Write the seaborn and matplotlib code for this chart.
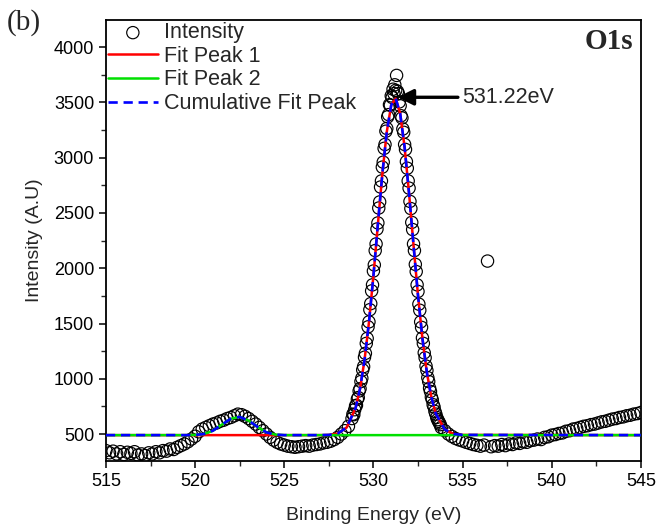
#!/usr/bin/env python3
"""
O1s XPS spectrum with two fitted peaks and the cumulative fit.
"""

import matplotlib

matplotlib.use("Agg")
import matplotlib.pyplot as plt
import numpy as np
import seaborn as sns


# measured spectrum, three energy windows (finer step across the main peak)
energy_a = np.round(np.arange(515.0, 528.61, 0.2), 2)
intensity_a = [
    350, 330, 345, 320, 340, 315, 335, 325, 340, 310,
    320, 305, 330, 320, 340, 330, 350, 345, 365, 360,
    380, 395, 410, 430, 455, 480, 520, 545, 560, 575,
    590, 600, 615, 625, 640, 650, 665, 680, 675, 660,
    640, 615, 590, 560, 530, 500, 470, 445, 425, 410,
    400, 390, 385, 380, 385, 390, 395, 390, 400, 405,
    410, 420, 425, 435, 450, 470, 500, 530, 570,
]

energy_b = np.round(np.arange(528.8, 533.81, 0.05), 2)
intensity_b = [
    640, 680, 675, 720, 755, 760, 815, 830, 890, 910,
    975, 1005, 1080, 1110, 1195, 1230, 1320, 1365, 1470, 1515,
    1625, 1680, 1795, 1850, 1975, 2030, 2160, 2220, 2355, 2410,
    2545, 2600, 2735, 2790, 2915, 2960, 3085, 3120, 3240, 3265,
    3370, 3390, 3480, 3475, 3560, 3545, 3620, 3580, 3660, 3610,
    3745, 3600, 3580, 3505, 3470, 3380, 3360, 3260, 3230, 3120,
    3075, 2965, 2905, 2790, 2725, 2605, 2540, 2415, 2350, 2220,
    2160, 2035, 1970, 1850, 1790, 1675, 1620, 1515, 1465, 1370,
    1320, 1235, 1190, 1115, 1075, 1010, 975, 915, 885, 835,
    810, 765, 745, 705, 680, 650, 630, 615, 600, 585,
    560,
]

energy_c = np.round(np.arange(534.0, 545.01, 0.2), 2)
intensity_c = [
    530, 500, 478, 460, 447, 437, 425, 415, 405, 398,
    390, 400, 2065, 385, 395, 390, 405, 395, 410, 405,
    420, 415, 430, 425, 440, 445, 455, 450, 470, 475,
    490, 495, 505, 510, 525, 530, 545, 550, 560, 570,
    575, 585, 590, 600, 610, 615, 625, 635, 640, 650,
    655, 665, 670, 680, 685, 695,
]

# fitted curves
fit_energy = [
    515.0, 519.5, 520.0, 520.5, 521.0, 521.5, 522.0, 522.5, 523.0, 523.5,
    524.0, 524.5, 525.0, 527.0, 527.5, 528.0, 528.5, 529.0, 529.25, 529.5,
    529.75, 530.0, 530.25, 530.5, 530.75, 531.0, 531.25, 531.5, 531.75, 532.0,
    532.25, 532.5, 532.75, 533.0, 533.25, 533.5, 534.0, 534.5, 535.0, 545.0,
]
fit_peak1 = [
    490, 490, 490, 490, 490, 490, 490, 490, 490, 490,
    490, 490, 490, 490, 492, 505, 559, 735, 911, 1167,
    1511, 1931, 2396, 2853, 3235, 3477, 3536, 3400, 3095, 2675,
    2208, 1755, 1363, 1054, 832, 684, 541, 500, 492, 490,
]
fit_peak2 = [
    490, 490, 492, 500, 530, 585, 638, 655, 622, 565,
    515, 495, 490, 490, 490, 490, 490, 490, 490, 490,
    490, 490, 490, 490, 490, 490, 490, 490, 490, 490,
    490, 490, 490, 490, 490, 490, 490, 490, 490, 490,
]
fit_cumulative = [
    490, 490, 492, 500, 530, 585, 638, 655, 622, 565,
    515, 495, 490, 490, 492, 505, 559, 735, 911, 1167,
    1511, 1931, 2396, 2853, 3235, 3477, 3536, 3400, 3095, 2675,
    2208, 1755, 1363, 1054, 832, 684, 541, 500, 492, 490,
]

peak_label = "531.22eV"


def main() -> None:
    sns.set_style("ticks")
    plt.rcParams["font.family"] = ["Liberation Sans", "DejaVu Sans"]

    energy = np.concatenate([energy_a, energy_b, energy_c])
    intensity = np.array(intensity_a + intensity_b + intensity_c)

    fig = plt.figure(figsize=(6.58, 5.30), dpi=100)
    ax = fig.add_axes([0.161, 0.130, 0.813, 0.832])

    sns.scatterplot(
        x=energy, y=intensity, marker="o", s=78,
        facecolors="none", edgecolor="black", linewidth=0.85,
        label="Intensity", ax=ax, zorder=1,
    )
    sns.lineplot(x=fit_energy, y=fit_peak1, color="#ff0000", linewidth=1.8,
                 label="Fit Peak 1", ax=ax, zorder=2)
    sns.lineplot(x=fit_energy, y=fit_peak2, color="#00e000", linewidth=1.8,
                 label="Fit Peak 2", ax=ax, zorder=3)
    sns.lineplot(x=fit_energy, y=fit_cumulative, color="#0000ff", linewidth=1.9,
                 linestyle=(0, (3.5, 2.2)), label="Cumulative Fit Peak",
                 ax=ax, zorder=4)

    ax.annotate(
        peak_label, xy=(531.35, 3547), xytext=(535.0, 3547),
        va="center", ha="left", fontsize=15.5,
        arrowprops=dict(arrowstyle="-|>", color="black", lw=2.4,
                        mutation_scale=24, shrinkA=1, shrinkB=0),
        zorder=5,
    )

    ax.set_xlim(515, 545)
    ax.set_ylim(255, 4245)
    ax.set_xticks(np.arange(515, 546, 5))
    ax.set_yticks(np.arange(500, 4001, 500))
    ax.set_xticks(np.arange(517.5, 545, 5), minor=True)
    ax.set_yticks(np.arange(750, 4250, 500), minor=True)
    ax.tick_params(which="major", direction="out", length=5, width=1.1,
                   labelsize=13, colors="black")
    ax.tick_params(which="minor", direction="out", length=3.5, width=1.0)
    for spine in ax.spines.values():
        spine.set_visible(True)
        spine.set_linewidth(1.3)
        spine.set_color("black")

    ax.set_xlabel("Binding Energy (eV)", fontsize=14, labelpad=12)
    ax.set_ylabel("Intensity (A.U)", fontsize=14, labelpad=8)

    ax.legend(loc="upper left", bbox_to_anchor=(0.0, 1.0), frameon=False,
              fontsize=15.5, handlelength=2.3, handletextpad=0.3,
              labelspacing=0.12, borderaxespad=0.0, borderpad=0.1)

    ax.text(0.985, 0.982, "O1s", transform=ax.transAxes, ha="right", va="top",
            fontsize=21, fontweight="bold", family=["Liberation Serif"])
    fig.text(0.010, 0.957, "(b)", ha="left", va="center", fontsize=21,
             family=["Liberation Serif"])

    fig.savefig("out.png", dpi=100)
    plt.close(fig)


if __name__ == "__main__":
    main()
